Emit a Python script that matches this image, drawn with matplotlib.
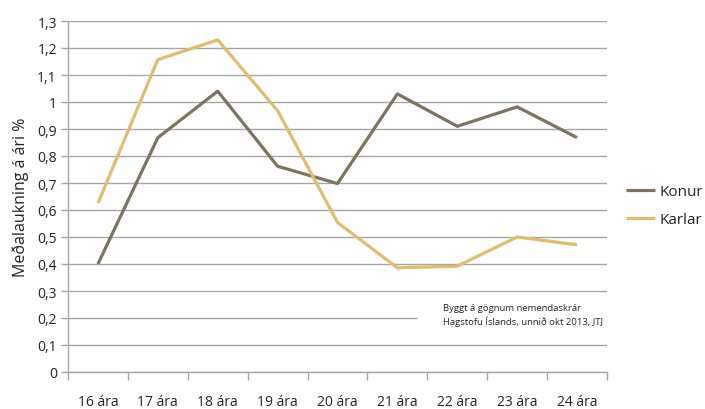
import matplotlib.pyplot as plt
from matplotlib.ticker import FixedLocator

ages = ["16 ára", "17 ára", "18 ára", "19 ára", "20 ára", "21 ára", "22 ára", "23 ára", "24 ára"]
konur = [0.40, 0.868, 1.04, 0.762, 0.698, 1.03, 0.91, 0.982, 0.868]
karlar = [0.625, 1.157, 1.23, 0.968, 0.554, 0.386, 0.392, 0.50, 0.471]
yticks = [i / 10 for i in range(14)]
ytick_labels = ["0" if v == 0 else ("1" if abs(v - 1) < 1e-9 else f"{v:.1f}".replace(".", ",")) for v in yticks]

KONUR = "#7d735e"
KARLAR = "#dfbd6c"
GRID = "#a6a6a6"
TEXT = "#222222"

plt.rcParams["font.family"] = ["Open Sans", "DejaVu Sans"]

fig = plt.figure(figsize=(7.05, 4.1), dpi=100)
ax = fig.add_axes([68 / 705, 37 / 410, 539 / 705, 351 / 410])

x = list(range(len(ages)))
ax.plot(x, konur, color=KONUR, linewidth=2.3, label="Konur", solid_capstyle="butt", zorder=3)
ax.plot(x, karlar, color=KARLAR, linewidth=2.3, label="Karlar", solid_capstyle="butt", zorder=3)

ax.set_xlim(-0.5, len(ages) - 0.5)
ax.set_ylim(0, 1.3)
ax.set_yticks(yticks)
ax.set_yticklabels(ytick_labels)
ax.set_xticks(x)
ax.set_xticklabels(ages)
ax.xaxis.set_minor_locator(FixedLocator([i - 0.5 for i in range(len(ages) + 1)]))
ax.tick_params(axis="x", which="major", length=0, pad=16, labelsize=10, colors=TEXT)
ax.tick_params(axis="x", which="minor", length=6, width=1, color=GRID)
ax.tick_params(axis="y", length=5, width=1, color=GRID, labelsize=10, labelcolor=TEXT, pad=3)

ax.yaxis.grid(True, color=GRID, linewidth=1)
ax.set_axisbelow(True)
for s in ["top", "right"]:
    ax.spines[s].set_visible(False)
for s in ["left", "bottom"]:
    ax.spines[s].set_color(GRID)
    ax.spines[s].set_linewidth(1)

ax.set_ylabel("Meðalaukning á ári %", fontsize=11.5, color=TEXT, labelpad=6)

ax.text(0.696, 0.213, "Byggt á gögnum nemendaskrár\nHagstofu Íslands, unnið okt 2013, JTJ",
        transform=ax.get_yaxis_transform(), fontsize=6.8, color=TEXT, va="center", ha="left",
        linespacing=1.45, zorder=2)
# white cover over the 0.2 gridline behind the note
ax.axhspan(0.19, 0.21, xmin=(418 - 68) / 539, xmax=1, facecolor="white", edgecolor="none", zorder=1)

ax.legend(loc="center left", bbox_to_anchor=(1.01, 0.473), frameon=False, fontsize=11,
          handlelength=1.9, handletextpad=0.3, labelspacing=0.85, labelcolor=TEXT,
          borderaxespad=0.5)

fig.savefig("out.png", dpi=100)
